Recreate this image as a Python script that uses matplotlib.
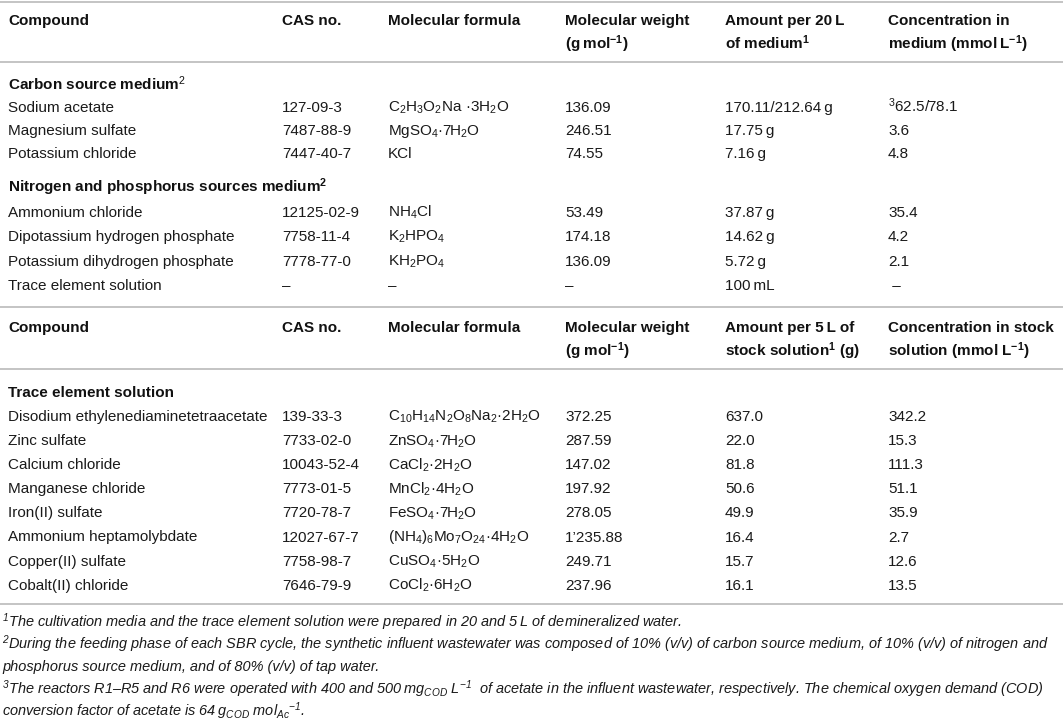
import matplotlib
matplotlib.use("Agg")
import matplotlib.pyplot as plt

plt.rcParams['font.family'] = ['Liberation Sans', 'DejaVu Sans']
plt.rcParams['mathtext.fontset'] = 'custom'
plt.rcParams['mathtext.rm'] = 'Liberation Sans'
plt.rcParams['mathtext.it'] = 'Liberation Sans:italic'
plt.rcParams['mathtext.bf'] = 'Liberation Sans:bold'
plt.rcParams['mathtext.default'] = 'regular'

# column headers of the two blocks (two lines each)
header_media = [("Compound", ""), ("CAS no.", ""), ("Molecular formula", ""),
                ("Molecular weight", "(g\u2009mol$^{-1}$)"),
                ("Amount per 20\u2009L", "of medium$^1$"),
                ("Concentration in", "medium (mmol\u2009L$^{-1}$)")]
header_trace = [("Compound", ""), ("CAS no.", ""), ("Molecular formula", ""),
                ("Molecular weight", "(g mol$^{-1}$)"),
                ("Amount per 5\u2009L of", "stock solution$^1$ (g)"),
                ("Concentration in stock", "solution (mmol L$^{-1}$)")]

# medium block
media_sections = ["Carbon source medium$^{\\mathrm{2}}$",
                  "Nitrogen and phosphorus sources medium$^2$"]
media_group = [0, 0, 0, 1, 1, 1, 1]
media_compound = ["Sodium acetate", "Magnesium sulfate", "Potassium chloride",
                  "Ammonium chloride", "Dipotassium hydrogen phosphate",
                  "Potassium dihydrogen phosphate", "Trace element solution"]
media_cas = ["127-09-3", "7487-88-9", "7447-40-7", "12125-02-9",
             "7758-11-4", "7778-77-0", "\u2013"]
media_formula = ["C$_2$H$_3$O$_2$Na \u00b73H$_2$O", "MgSO$_4$\u00b77H$_2$O", "KCl",
                 "NH$_4$Cl", "K$_2$HPO$_4$", "KH$_2$PO$_4$", "\u2013"]
media_mw = ["136.09", "246.51", "74.55", "53.49", "174.18", "136.09", "\u2013"]
media_amount = ["170.11/212.64\u2009g", "17.75\u2009g", "7.16\u2009g", "37.87\u2009g",
                "14.62\u2009g", "5.72\u2009g", "100\u2009mL"]
media_conc = ["$^3$62.5/78.1", "3.6", "4.8", "35.4", "4.2", "2.1", " \u2013"]

# trace element block
trace_section = "Trace element solution"
trace_compound = ["Disodium ethylenediaminetetraacetate", "Zinc sulfate",
                  "Calcium chloride", "Manganese chloride", "Iron(II) sulfate",
                  "Ammonium heptamolybdate", "Copper(II) sulfate",
                  "Cobalt(II) chloride"]
trace_cas = ["139-33-3", "7733-02-0", "10043-52-4", "7773-01-5", "7720-78-7",
             "12027-67-7", "7758-98-7", "7646-79-9"]
trace_formula = ["C$_{10}$H$_{14}$N$_2$O$_8$Na$_2$\u00b72H$_2$O", "ZnSO$_4$\u00b77H$_2$O",
                 "CaCl$_2$\u00b72H$_2$O", "MnCl$_2$\u00b74H$_2$O", "FeSO$_4$\u00b77H$_2$O",
                 "(NH$_4$)$_6$Mo$_7$O$_{24}$\u00b74H$_2$O", "CuSO$_4$\u00b75H$_2$O",
                 "CoCl$_2$\u00b76H$_2$O"]
trace_mw = ["372.25", "287.59", "147.02", "197.92", "278.05", "1\u2019235.88",
            "249.71", "237.96"]
trace_amount = ["637.0", "22.0", "81.8", "50.6", "49.9", "16.4", "15.7", "16.1"]
trace_conc = ["342.2", "15.3", "111.3", "51.1", "35.9", "2.7", "12.6", "13.5"]

footnotes = [
    "$^1$The cultivation media and the trace element solution were prepared in 20 and 5\u2009L of demineralized water.",
    "$^2$During the feeding phase of each SBR cycle, the synthetic influent wastewater was composed of 10% (v/v) of carbon source medium, of 10% (v/v) of nitrogen and",
    "phosphorus source medium, and of 80% (v/v) of tap water.",
    "$^3$The reactors R1\u2013R5 and R6 were operated with 400 and 500\u2009mg$_{COD}$ L$^{-1}$  of acetate in the influent wastewater, respectively. The chemical oxygen demand (COD)",
    "conversion factor of acetate is 64\u2009g$_{COD}$ mol$_{Ac}$$^{-1}$.",
]

W, H = 1063, 724
fig = plt.figure(figsize=(W / 100, H / 100), dpi=100)
ax = fig.add_axes([0, 0, 1, 1])
ax.set_xlim(0, W)
ax.set_ylim(H, 0)
ax.axis("off")

col_x = [8, 282, 388, 565, 725, 888]
fs = 11
txt_color = "#1a1a1a"
head_color = "#111111"
rule_color = "#c4c4c4"


def rule(y):
    ax.plot([0, W], [y, y], color=rule_color, lw=1.4, solid_capstyle="butt")


def header(labels, y):
    # y is the baseline of the first header line
    for x, (l1, l2) in zip(col_x, labels):
        ax.text(x, y, l1, fontsize=fs, fontweight="bold", va="baseline",
                ha="left", color=head_color)
        if l2:
            ax.text(x, y + 24, l2, fontsize=fs, fontweight="bold", va="baseline",
                    ha="left", color=head_color)


def row(cells, y):
    for x, c in zip(col_x, cells):
        ax.text(x, y, c, fontsize=fs, va="baseline", ha="left", color=txt_color)


# first block
rule(2)
header(header_media, 25)
rule(62)
y_media = {0: [90, 112, 135, 158], 1: [192, 217, 241, 266, 290]}
prev = None
count = {0: 0, 1: 0}
for i in range(len(media_compound)):
    g = media_group[i]
    if g != prev:
        ax.text(col_x[0], y_media[g][0], media_sections[g], fontsize=fs,
                fontweight="bold", va="baseline", color=head_color)
        prev = g
    count[g] += 1
    yy = y_media[g][count[g]]
    row([media_compound[i], media_cas[i], media_formula[i], media_mw[i],
         media_amount[i], media_conc[i]], yy)

# second block
rule(307)
header(header_trace, 332)
rule(369)
ax.text(col_x[0], 397, trace_section, fontsize=fs, fontweight="bold",
        va="baseline", color=head_color)
for i in range(len(trace_compound)):
    row([trace_compound[i], trace_cas[i], trace_formula[i], trace_mw[i],
         trace_amount[i], trace_conc[i]], 421 + 24.1 * i)
rule(604)

# footnotes
for k, note in enumerate(footnotes):
    ax.text(2, 627 + 22.2 * k, note, fontsize=10.45, style="italic",
            va="baseline", ha="left", color=txt_color)

fig.savefig("out.png", dpi=100)
